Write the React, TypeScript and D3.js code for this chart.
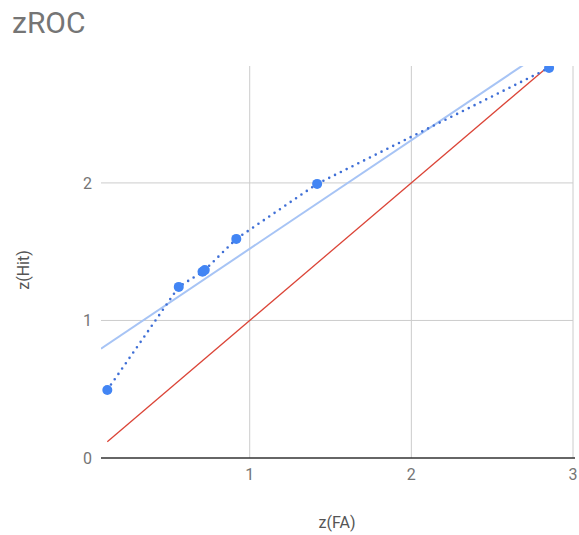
import React, { useEffect, useRef } from 'react';
import * as d3 from 'd3';

// z-scores
const zFA = [0.119, 0.561, 0.708, 0.722, 0.917, 1.417, 2.852];
const zHit = [0.495, 1.244, 1.354, 1.366, 1.593, 1.993, 2.836];
const xTicks = [1, 2, 3];
const yTicks = [0, 1, 2];

function App() {
  const chartRef = useRef<HTMLDivElement>(null);

  useEffect(() => {
    const width = 579;
    const height = 535;
    const plot = { left: 101, right: 573, top: 66, bottom: 458 };

    d3.select(chartRef.current).select('svg').remove();

    const svg = d3
      .select(chartRef.current)
      .append('svg')
      .attr('width', width)
      .attr('height', height)
      .style('font-family', 'Roboto, sans-serif');

    const x = d3.scaleLinear().domain([0.08, 3]).range([plot.left, plot.right]);
    const y = d3.scaleLinear().domain([0, 2.85]).range([plot.bottom, plot.top]);

    const data = zFA.map((d, i) => ({ fa: d, hit: zHit[i] }));

    // clip to chart area
    svg
      .append('clipPath')
      .attr('id', 'plot-clip')
      .append('rect')
      .attr('x', plot.left - 8)
      .attr('y', plot.top)
      .attr('width', plot.right - plot.left + 16)
      .attr('height', plot.bottom - plot.top + 8);

    svg
      .append('clipPath')
      .attr('id', 'line-clip')
      .append('rect')
      .attr('x', plot.left)
      .attr('y', plot.top)
      .attr('width', plot.right - plot.left + 2)
      .attr('height', plot.bottom - plot.top);

    // gridlines
    svg
      .append('g')
      .selectAll('line')
      .data(xTicks)
      .join('line')
      .attr('x1', (d) => x(d))
      .attr('x2', (d) => x(d))
      .attr('y1', plot.top)
      .attr('y2', plot.bottom)
      .attr('stroke', '#cccccc')
      .attr('stroke-width', 1);

    svg
      .append('g')
      .selectAll('line')
      .data(yTicks.filter((d) => d > 0))
      .join('line')
      .attr('x1', plot.left)
      .attr('x2', plot.right)
      .attr('y1', (d) => y(d))
      .attr('y2', (d) => y(d))
      .attr('stroke', '#cccccc')
      .attr('stroke-width', 1);

    // tick labels
    svg
      .append('g')
      .selectAll('text')
      .data(xTicks)
      .join('text')
      .attr('x', (d) => x(d))
      .attr('y', plot.bottom + 22)
      .attr('text-anchor', 'middle')
      .attr('font-size', 16)
      .attr('fill', '#757575')
      .text((d) => d);

    svg
      .append('g')
      .selectAll('text')
      .data(yTicks)
      .join('text')
      .attr('x', plot.left - 9)
      .attr('y', (d) => y(d))
      .attr('dy', '0.35em')
      .attr('text-anchor', 'end')
      .attr('font-size', 16)
      .attr('fill', '#757575')
      .text((d) => d);

    const g = svg.append('g').attr('clip-path', 'url(#line-clip)');

    // chance line z(Hit) = z(FA)
    const xs = d3.extent(zFA) as [number, number];
    g.append('path')
      .datum(xs)
      .attr('fill', 'none')
      .attr('stroke', '#db4437')
      .attr('stroke-width', 1.3)
      .attr('d', d3.line<number>().x((d) => x(d)).y((d) => y(d)));

    // least squares trendline
    const mx = d3.mean(zFA) as number;
    const my = d3.mean(zHit) as number;
    const sxy = d3.sum(zFA, (d, i) => (d - mx) * (zHit[i] - my));
    const sxx = d3.sum(zFA, (d) => (d - mx) * (d - mx));
    const slope = sxy / sxx;
    const intercept = my - slope * mx;
    const trendX = x.domain();
    g.append('path')
      .datum(trendX)
      .attr('fill', 'none')
      .attr('stroke', '#a7c4f5')
      .attr('stroke-width', 2)
      .attr('d', d3.line<number>().x((d) => x(d)).y((d) => y(slope * d + intercept)));

    // dotted data line
    g.append('path')
      .datum(data)
      .attr('fill', 'none')
      .attr('stroke', '#3f6fd6')
      .attr('stroke-width', 2.6)
      .attr('stroke-linecap', 'round')
      .attr('stroke-dasharray', '0,6.5')
      .attr(
        'd',
        d3
          .line<{ fa: number; hit: number }>()
          .x((d) => x(d.fa))
          .y((d) => y(d.hit))
      );

    // points
    svg
      .append('g')
      .attr('clip-path', 'url(#plot-clip)')
      .selectAll('circle')
      .data(data)
      .join('circle')
      .attr('cx', (d) => x(d.fa))
      .attr('cy', (d) => y(d.hit))
      .attr('r', 5)
      .attr('fill', '#4285f4');

    // baseline
    svg
      .append('line')
      .attr('x1', plot.left)
      .attr('x2', plot.right + 2)
      .attr('y1', y(0))
      .attr('y2', y(0))
      .attr('stroke', '#333333')
      .attr('stroke-width', 1.5);

    // titles
    svg
      .append('text')
      .attr('x', 12)
      .attr('y', 33)
      .attr('font-size', 30)
      .attr('fill', '#757575')
      .text('zROC');

    svg
      .append('text')
      .attr('x', 337)
      .attr('y', 528)
      .attr('text-anchor', 'middle')
      .attr('font-size', 16)
      .attr('fill', '#555555')
      .text('z(FA)');

    svg
      .append('text')
      .attr('transform', 'translate(29,270) rotate(-90)')
      .attr('text-anchor', 'middle')
      .attr('font-size', 16)
      .attr('fill', '#555555')
      .text('z(Hit)');
  }, []);

  return <div ref={chartRef} style={{ position: 'absolute', left: 0, top: 0 }}></div>;
}

export default App;
